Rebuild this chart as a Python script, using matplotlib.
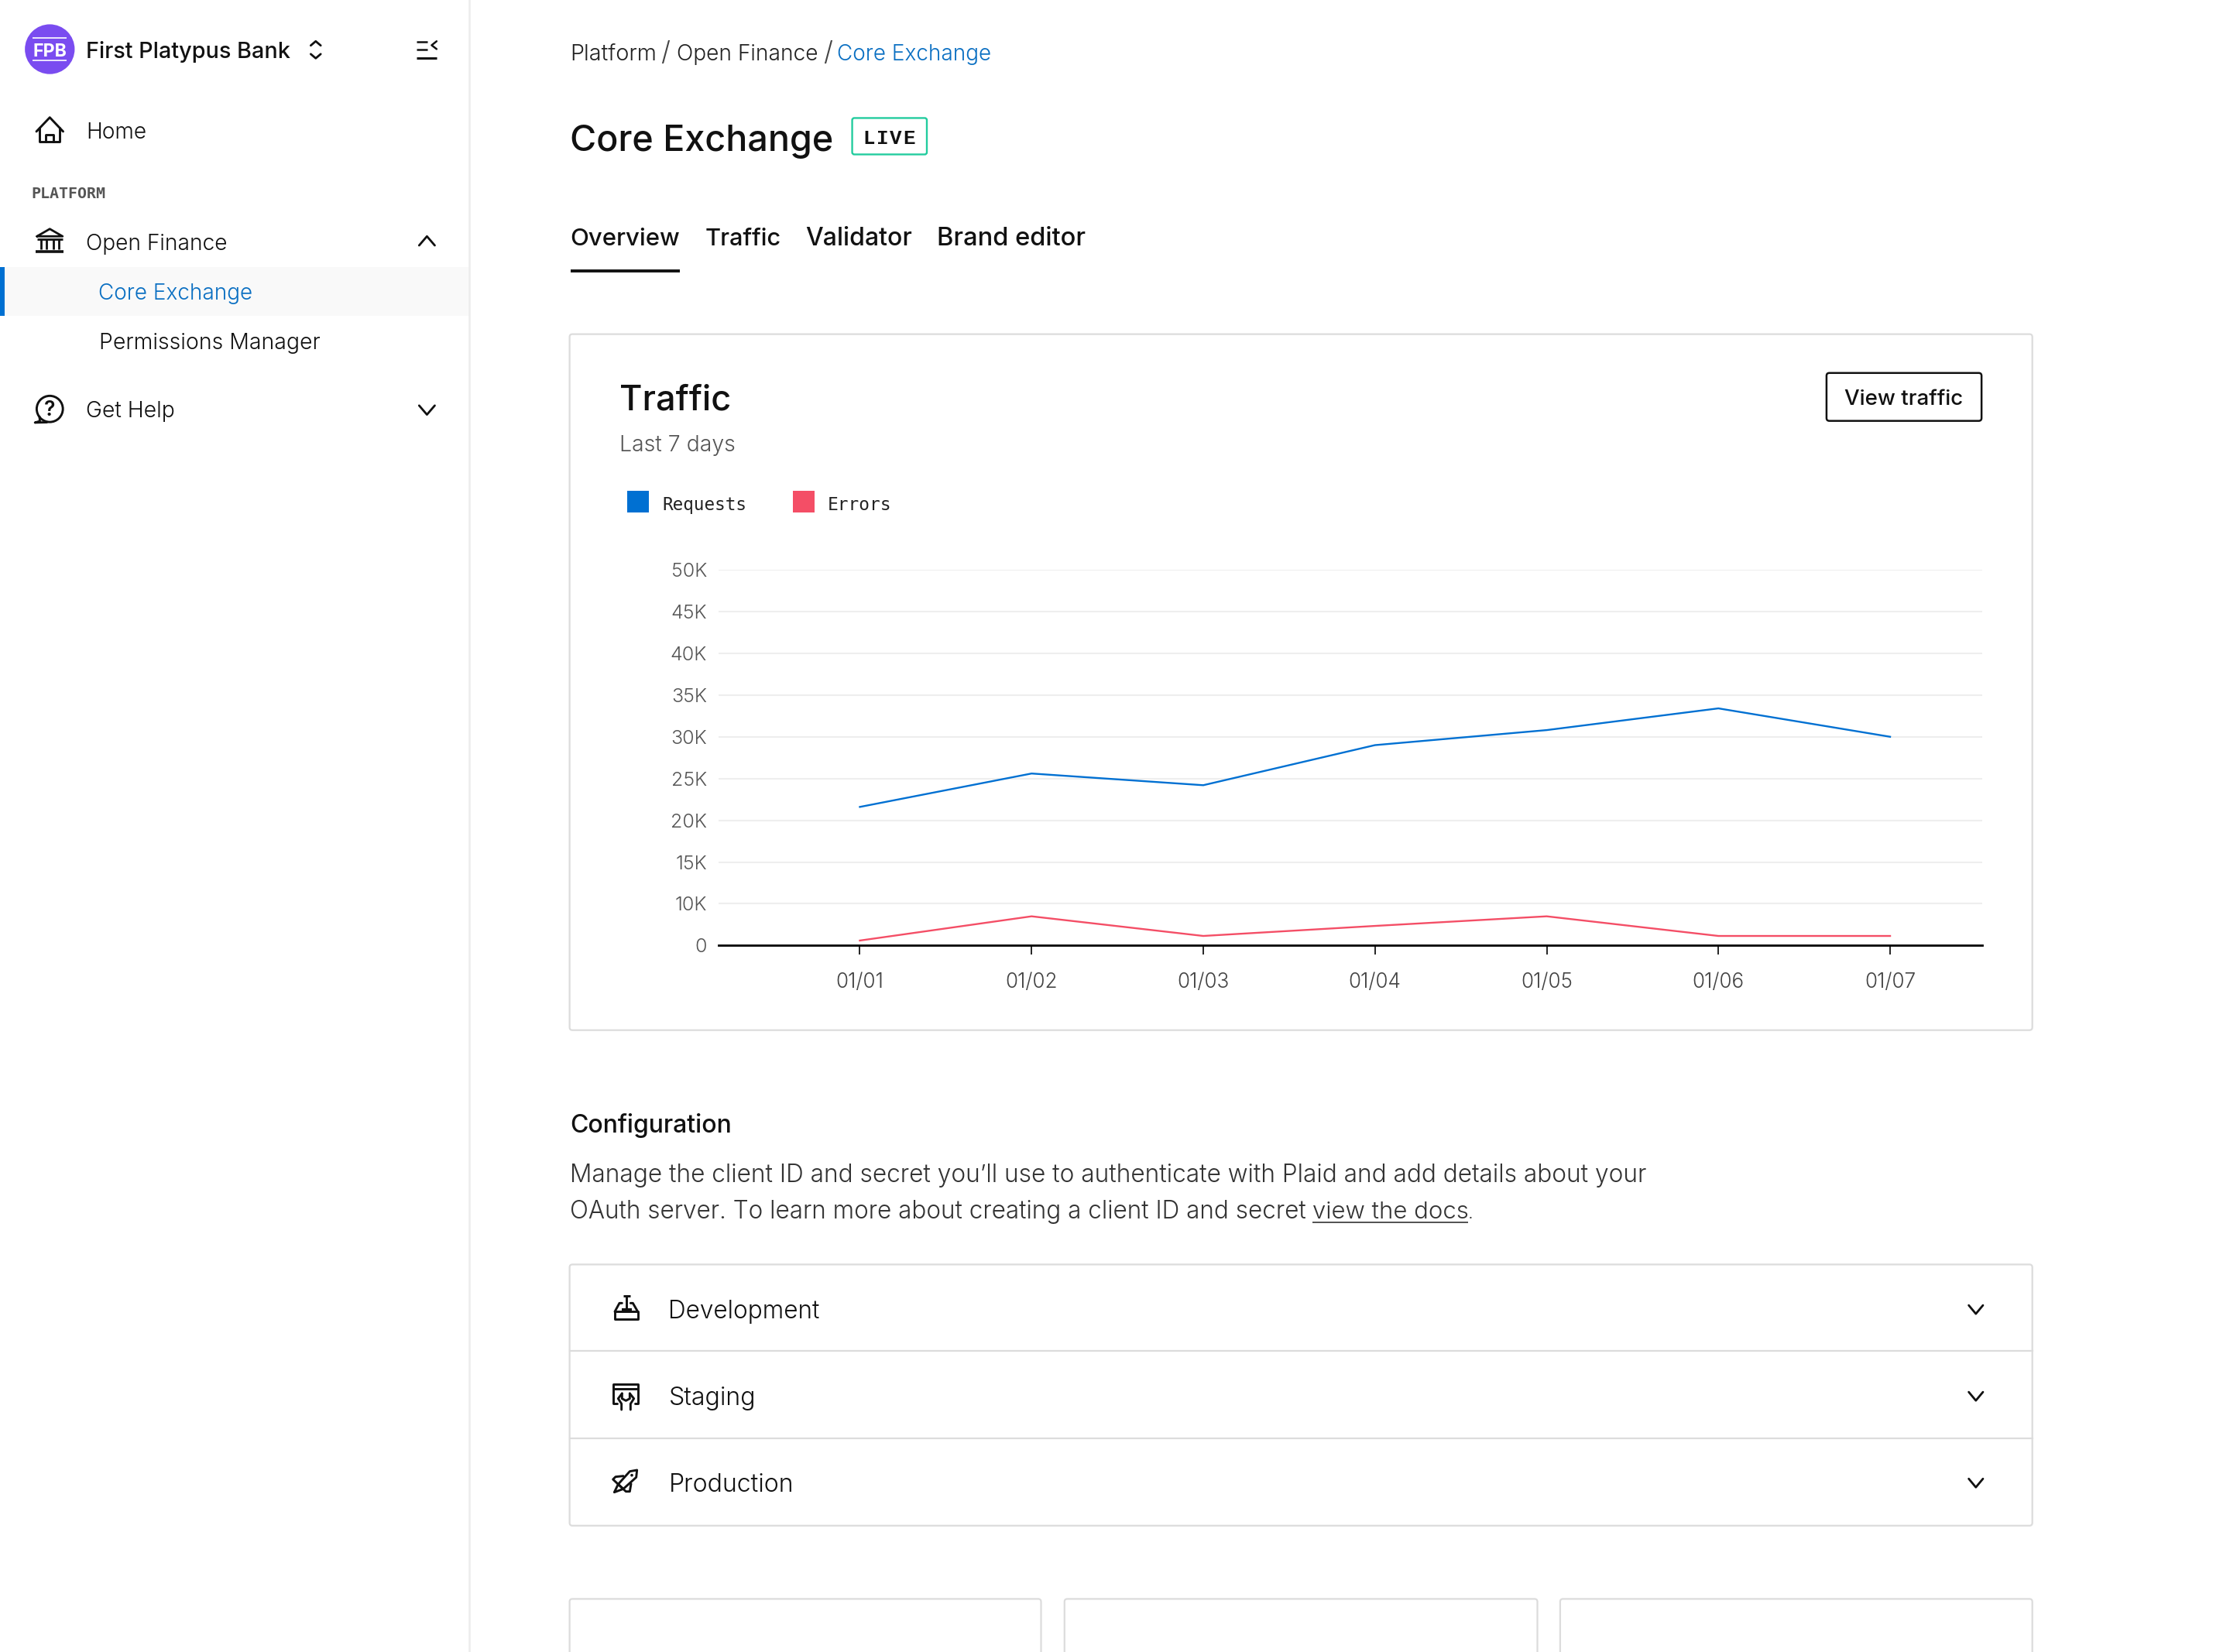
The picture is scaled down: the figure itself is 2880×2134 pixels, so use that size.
import numpy as np
import matplotlib
matplotlib.use("Agg")
import matplotlib.pyplot as plt
from matplotlib.patches import FancyBboxPatch, Rectangle, Circle, Polygon

# ---- chart data
dates = ["01/01", "01/02", "01/03", "01/04", "01/05", "01/06", "01/07"]
requests = [21600, 25600, 24200, 29000, 30800, 33400, 30000]
errors = [1200, 7000, 2300, 4700, 7000, 2300, 2300]
ytick_values = [0, 10000, 15000, 20000, 25000, 30000, 35000, 40000, 45000, 50000]
ytick_labels = ["0", "10K", "15K", "20K", "25K", "30K", "35K", "40K", "45K", "50K"]
series_names = ["Requests", "Errors"]

BLUE = "#0070d2"
RED = "#f44e66"
INK = "#111111"
GREY = "#555555"
BORDER = "#dcdcdc"
SANS = "Inter"
MONO = "DejaVu Sans Mono"

W, H, DPI = 2880, 2134, 200
K = W / 1568.0
DW, DH = 1568.0, 1568.0 * H / W
fig = plt.figure(figsize=(W / DPI, H / DPI), dpi=DPI, facecolor="white")
ui = fig.add_axes([0, 0, 1, 1], zorder=0)
ui.set_xlim(0, DW)
ui.set_ylim(DH, 0)
ui.axis("off")
renderer = fig.canvas.get_renderer()


def T(x0, x1, base, s, color=INK, family=SANS, weight=300, ha="left", ax=ui):
    """Text with baseline at `base`, fitted between x0 and x1 (layout units)."""
    x = x0 - 0.4 if ha == "left" else (x0 + x1) / 2
    t = ax.text(x, base + 0.6, s, color=color, family=family, weight=weight, fontsize=10,
                ha=ha, va="baseline")
    w = t.get_window_extent(renderer).width
    t.set_fontsize(10 * (x1 - x0 + 0.5) * K / w)
    return t


def L(pts, lw=0.95, color=INK, cap="round", join="round"):
    xs, ys = zip(*pts)
    ui.plot(xs, ys, color=color, lw=lw, solid_capstyle=cap, solid_joinstyle=join)


def R(x0, y0, x1, y1, ec=BORDER, fc="none", lw=0.8, r=2.0):
    ui.add_patch(FancyBboxPatch((x0, y0), x1 - x0, y1 - y0,
                                boxstyle=f"round,pad=0,rounding_size={r}",
                                ec=ec, fc=fc, lw=lw))


def chevron(cx, cy, up=False, hw=5.5, hh=3.2, lw=1.0):
    s = -1 if up else 1
    L([(cx - hw, cy - s * hh), (cx, cy + s * hh), (cx + hw, cy - s * hh)], lw=lw)


def P(ox, oy, pts):
    """Icon outline given in units of a third of an output pixel from (ox, oy)."""
    return [((ox + x / 3) / K, (oy + y / 3) / K) for x, y in pts]


# ---- sidebar
ui.plot([606 / K] * 2, [0, DH], color="#ececec", lw=0.9)
ui.add_patch(Rectangle((0, 187.6), 330, 34.4, fc="#f9f9f9", ec="none"))
ui.add_patch(Rectangle((0, 187.6), 3.2, 34.4, fc=BLUE, ec="none"))
ui.add_patch(Circle((35, 34.6), 17.5, fc="#7a4cf0", ec="none"))
T(23.6, 47.2, 39.4, "FPB", color="white", weight=700)
L([(23, 26.9), (46.6, 26.9)], lw=0.6, color="white", cap="butt")
L([(23, 42.6), (46.6, 42.6)], lw=0.6, color="white", cap="butt")
T(61, 204, 40, "First Platypus Bank", weight=500)
L([(218.5, 32), (222, 29), (225.5, 32)], lw=1.0)
L([(218.5, 38), (222, 41), (225.5, 38)], lw=1.0)
L([(292.7, 29.3), (300.5, 29.3)], lw=0.9, cap="butt")
L([(292.7, 35), (300.5, 35)], lw=0.9, cap="butt")
L([(292.7, 40.7), (307, 40.7)], lw=1.1, cap="butt")
L([(307, 29), (303.5, 31.8), (307, 34.5)], lw=0.9)

# home icon
L([(25.6, 92.5), (35, 82.6), (44.4, 92.5)], lw=1.05)
L([(28, 90), (28, 99.4), (42, 99.4), (42, 90)], lw=1.05)
L([(32.2, 99.4), (32.2, 95), (37.8, 95), (37.8, 99.4)], lw=1.05)
T(61, 103, 97, "Home")
T(22.3, 74.5, 138.8, "PLATFORM", color=GREY, family=MONO, weight=700)

# bank icon
L([(26, 166.2), (35, 161), (44, 166.2), (26, 166.2)], lw=1.0)
L([(26, 168.3), (44, 168.3)], lw=1.0, cap="butt")
for cx in (28.6, 32.6, 37.4, 41.4):
    L([(cx, 168.3), (cx, 175.5)], lw=1.0, cap="butt")
L([(25, 176.8), (44.8, 176.8)], lw=1.3, cap="butt")
T(61, 160, 175, "Open Finance")
chevron(300.2, 169.4, up=True)
T(69.5, 177.5, 210, "Core Exchange", color="#0a6fc2")
T(70, 225, 245, "Permissions Manager")

# help icon
ui.add_patch(Circle((35, 287.6), 9.2, fc="white", ec=INK, lw=1.05))
L([(27.8, 293), (28, 296.2), (24.6, 297.2), (33, 297)], lw=1.05)
T(31.4, 38.8, 291.6, "?", weight=600)
T(61, 123, 293, "Get Help")
chevron(300.2, 288.4)

# ---- header
T(401, 461.5, 42, "Platform", color="#222222")
T(465, 471, 42, "/", color="#444444")
T(476, 575, 42, "Open Finance", color="#222222")
T(579, 585, 42, "/", color="#444444")
T(589, 697, 42, "Core Exchange", color="#0a6fc2")
T(401, 585.5, 105.5, "Core Exchange", weight=500)
R(599.2, 83, 651.7, 108.6, ec="#22cc9e", lw=0.85, r=1.5)
for cx, letter in zip((611.2, 620.6, 630, 639.4), "LIVE"):
    ui.text(cx, 101.1, letter, family="Liberation Mono", weight=700, fontsize=9.3,
            color=INK, ha="center", va="baseline")
T(401, 477.5, 172, "Overview", weight=500)
T(496, 549, 172, "Traffic", weight=500)
T(566.5, 641, 172, "Validator", weight=500)
T(659, 763, 172, "Brand editor", weight=500)
L([(401, 190.6), (478, 190.6)], lw=1.4, cap="butt")

# ---- traffic card
R(400.5, 235, 1429, 724.5)
T(436, 514, 287.6, "Traffic", weight=500)
T(436, 517.5, 317, "Last 7 days", color=GREY)
R(1284.3, 262.3, 1393.3, 296, ec=INK, lw=0.9, r=2)
T(1297.5, 1380.5, 284, "View traffic", weight=500)

ui.add_patch(Rectangle((441, 345.3), 15.3, 15, fc=BLUE, ec="none"))
T(466, 525, 358, series_names[0], family=MONO, weight=400, color="#222222")
ui.add_patch(Rectangle((557.5, 345.3), 15.3, 15, fc=RED, ec="none"))
T(582.5, 627, 358, series_names[1], family=MONO, weight=400, color="#222222")

# ---- chart
AX_L, AX_R, AX_T, AX_B = 505.5, 1394.0, 400.7, 665.0
ax = fig.add_axes([AX_L / DW, 1 - AX_B / DH, (AX_R - AX_L) / DW, (AX_B - AX_T) / DH],
                  zorder=2, facecolor="none")
scale_pos = np.arange(len(ytick_values), dtype=float)
ax.set_yscale("function", functions=(
    lambda v: np.interp(v, ytick_values, scale_pos),
    lambda p: np.interp(p, scale_pos, ytick_values)))
xs = np.arange(len(dates))
ax.plot(xs, requests, color=BLUE, lw=0.85, solid_joinstyle="miter", zorder=3)
ax.plot(xs, errors, color=RED, lw=0.85, solid_joinstyle="miter", zorder=3)
ax.set_ylim(0, 50000)
TICK0, TICK6 = 604.6, 1329.0
step = (TICK6 - TICK0) / 6
ax.set_xlim((AX_L - TICK0) / step, (AX_R - TICK0) / step)
ax.set_xticks(xs, dates)
ax.set_yticks(ytick_values, ytick_labels)
ax.minorticks_off()
ax.tick_params(axis="y", length=0, pad=5.6, labelsize=9.0, labelcolor=GREY)
ax.tick_params(axis="x", length=4.3, width=0.6, pad=8.0, labelsize=9.4, labelcolor="#444444", color="#000000")
for lab in ax.get_xticklabels() + ax.get_yticklabels():
    lab.set_family(SANS)
    lab.set_weight(300)
ax.grid(axis="y", color="#eeeeee", lw=0.75, zorder=0)
ax.set_axisbelow(True)
for s in ("top", "left", "right"):
    ax.spines[s].set_visible(False)
ax.spines["bottom"].set_linewidth(1.0)
ax.spines["bottom"].set_color("#000000")

# ---- configuration
T(401, 514.5, 796, "Configuration", weight=500)
T(401, 1160.5, 830.5,
  "Manage the client ID and secret you\u2019ll use to authenticate with Plaid and add details about your",
  color="#333333")
T(401, 919, 856.5, "OAuth server. To learn more about creating a client ID and secret", color="#333333")
T(923, 1032.5, 856.5, "view the docs", color="#333333")
L([(923, 859.8), (1032.5, 859.8)], lw=0.6, color="#333333", cap="butt")
T(1032.8, 1036, 856.5, ".", color="#333333")

# ---- accordion
R(400.5, 889.3, 1429, 1073)
for y in (950.3, 1011.4):
    ui.plot([400.5, 1429], [y, y], color=BORDER, lw=0.8)
T(470.5, 576.5, 926.5, "Development")
T(470.5, 531.5, 987.5, "Staging")
T(470.5, 558, 1048.5, "Production")
for cy in (921, 982, 1043):
    chevron(1389.3, cy, hw=5, hh=3)

# development icon
ox, oy = 780, 1660
L(P(ox, oy, [(42, 103), (60, 70), (70, 70)]), lw=1.05)
L(P(ox, oy, [(131, 103), (112, 70), (103, 70)]), lw=1.05)
L(P(ox, oy, [(42, 103), (131, 103), (131, 133), (42, 133), (42, 103)]), lw=1.05)
L(P(ox, oy, [(88, 42), (88, 92)]), lw=1.05, cap="butt")
L(P(ox, oy, [(75, 42), (102, 42)]), lw=1.05, cap="butt")
L(P(ox, oy, [(68, 95), (108, 95)]), lw=1.5, cap="butt")

# staging icon
ox, oy = 780, 1775
L(P(ox, oy, [(50, 115), (37, 115), (37, 40), (133, 40), (133, 115), (120, 115)]), lw=1.05)
L(P(ox, oy, [(37, 58), (133, 58)]), lw=1.05, cap="butt")
L(P(ox, oy, [(70, 75), (55, 95), (68, 115), (68, 138)]), lw=1.05)
L(P(ox, oy, [(100, 75), (116, 95), (103, 115), (103, 138)]), lw=1.05)
L(P(ox, oy, [(70, 75), (70, 95), (85, 103), (100, 95), (100, 75)]), lw=1.05)

# rocket icon
ox, oy = 780, 1885
ui.add_patch(Polygon(P(ox, oy, [(128, 42), (100, 47), (55, 97), (75, 115), (125, 70)]),
                     closed=True, fc="none", ec=INK, lw=1.05, joinstyle="round"))
L(P(ox, oy, [(75, 65), (45, 68), (35, 78), (85, 125), (100, 125), (105, 95)]), lw=1.05)
L(P(ox, oy, [(55, 97), (40, 128), (75, 115)]), lw=1.05)
cx, cy = P(ox, oy, [(108, 62)])[0]
ui.add_patch(Circle((cx, cy), 1.0, fc=INK, ec="none"))

# ---- lower cards (cut by the page edge)
for x0, x1 in ((400.5, 732), (748.5, 1081), (1097, 1429)):
    R(x0, 1124.5, x1, 1200)

fig.savefig("out.png", dpi=DPI, facecolor="white")
